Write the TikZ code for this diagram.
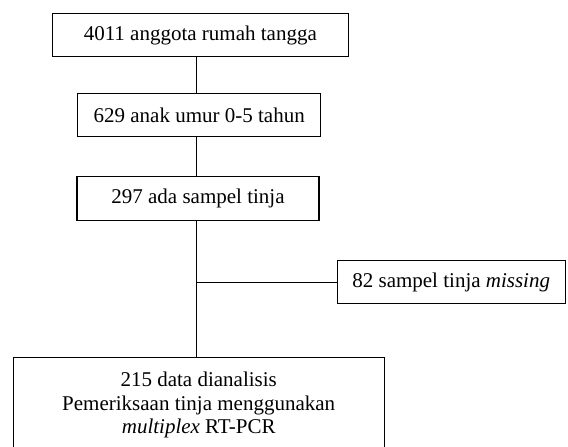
\documentclass[tikz,border=0pt]{standalone}
\usepackage{fontspec}
\setmainfont{Liberation Serif}

\begin{document}
\begin{tikzpicture}[x=0.5pt,y=-0.5pt,line width=.6pt,
  kotak/.style={draw,rectangle,inner sep=0pt,minimum height=21.7pt,font=\fontsize{10.5}{11.75}\selectfont}]
\useasboundingbox (0,0) rectangle (568,446); \clip (0,0) rectangle (568,446);
\coordinate (spine) at (196.7,0);
\node[kotak,minimum width=148pt] (anggota) at (200.3,35) {4011 anggota rumah tangga};
\node[kotak,minimum width=121.5pt] (anak) at (199.2,115) {629 anak umur 0-5 tahun};
\node[kotak,minimum width=121pt] (sampel) at (198,198.5) {297 ada sampel tinja};
\node[kotak,minimum width=114pt] (missing) at (451.2,282) {82 sampel tinja \textit{missing}};
\node[kotak,minimum width=185.4pt,minimum height=48pt,align=center] (analisis) at (198.7,405.3)
  {215 data dianalisis\\Pemeriksaan tinja menggunakan\\\textit{multiplex} RT-PCR};
\draw[line width=.5pt] (anggota.south -| spine)--(anak.north -| spine) (anak.south -| spine)--(sampel.north -| spine)
  (sampel.south -| spine)--(analisis.north -| spine) (missing.west)--(missing.west -| spine);
\end{tikzpicture}
\end{document}
